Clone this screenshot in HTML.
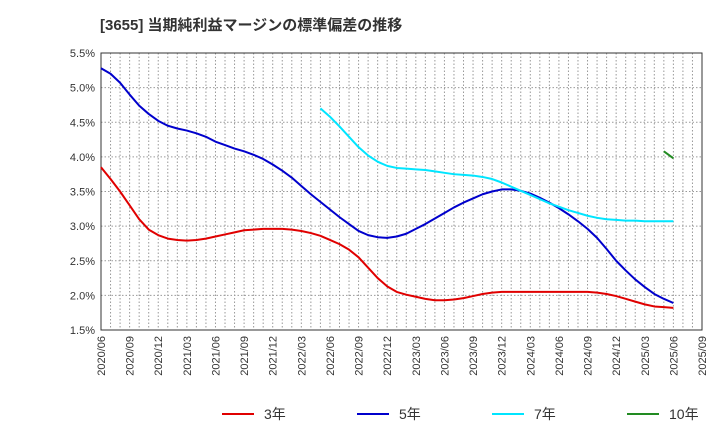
<!DOCTYPE html>
<html><head><meta charset="utf-8"><style>
body{margin:0;background:#fff;width:720px;height:440px;overflow:hidden;font-family:"Liberation Sans","Noto Sans CJK JP",sans-serif;}
</style></head><body>
<svg id="chart" width="720" height="440" xmlns="http://www.w3.org/2000/svg">
<text x="100" y="30" font-size="15" font-weight="bold" fill="#333" font-family="Liberation Sans, Noto Sans CJK JP, sans-serif">[3655]  当期純利益マージンの標準偏差の推移</text>
<g id="grid"></g><g id="axes"></g><g id="series"></g><g id="legend"></g>
</svg>
<script>
const yTicks=[1.5,2.0,2.5,3.0,3.5,4.0,4.5,5.0,5.5];
const xLabels=["2020/06","2020/09","2020/12","2021/03","2021/06","2021/09","2021/12","2022/03","2022/06","2022/09","2022/12","2023/03","2023/06","2023/09","2023/12","2024/03","2024/06","2024/09","2024/12","2025/03","2025/06","2025/09"];
const s3=[3.85,3.68,3.5,3.3,3.1,2.95,2.87,2.82,2.8,2.79,2.8,2.82,2.85,2.88,2.91,2.94,2.95,2.96,2.96,2.96,2.95,2.93,2.9,2.86,2.8,2.74,2.66,2.55,2.4,2.25,2.13,2.05,2.01,1.98,1.95,1.93,1.93,1.94,1.96,1.99,2.02,2.04,2.05,2.05,2.05,2.05,2.05,2.05,2.05,2.05,2.05,2.05,2.04,2.02,1.99,1.95,1.91,1.87,1.84,1.83,1.82];
const s5=[5.28,5.2,5.07,4.9,4.74,4.62,4.52,4.45,4.41,4.38,4.34,4.29,4.22,4.17,4.12,4.08,4.03,3.97,3.89,3.8,3.7,3.58,3.46,3.35,3.24,3.13,3.03,2.93,2.87,2.84,2.83,2.85,2.89,2.96,3.03,3.11,3.19,3.27,3.34,3.4,3.46,3.5,3.53,3.53,3.51,3.47,3.41,3.34,3.26,3.17,3.07,2.96,2.83,2.67,2.5,2.36,2.23,2.12,2.02,1.95,1.89];
const s7start=23;
const s7=[4.7,4.58,4.44,4.29,4.14,4.02,3.93,3.87,3.84,3.83,3.82,3.81,3.79,3.77,3.75,3.74,3.73,3.71,3.68,3.63,3.57,3.51,3.45,3.39,3.33,3.28,3.23,3.19,3.15,3.12,3.1,3.09,3.08,3.08,3.07,3.07,3.07,3.07];
const s10start=59;
const s10=[4.08,3.98];
const L=101,R=702,T=53,B=330,NM=63;
const X=i=>L+i*(R-L)/NM;
const Y=v=>T+(5.5-v)/4*(B-T);
const NS="http://www.w3.org/2000/svg";
function mk(tag,attrs,parent){const e=document.createElementNS(NS,tag);for(const k in attrs)e.setAttribute(k,attrs[k]);parent.appendChild(e);return e;}
const grid=document.getElementById('grid'),axes=document.getElementById('axes'),ser=document.getElementById('series'),leg=document.getElementById('legend');
for(let m=1;m<NM;m++){const l=mk('line',{x1:X(m),x2:X(m),y1:T,y2:B,stroke:'#999','stroke-width':1,'stroke-dasharray':'1.5,2'},grid);

}
yTicks.forEach(v=>{const l=mk('line',{x1:L,x2:R,y1:Y(v),y2:Y(v),stroke:'#999','stroke-width':1,'stroke-dasharray':'1.5,2'},grid);


const t=mk('text',{x:L-6,y:Y(v)+4,'font-size':11,'text-anchor':'end',fill:'#333'},axes);t.textContent=v.toFixed(1)+'%';

});
xLabels.forEach((s,k)=>{const x=X(k*3);const t=mk('text',{x:x+4,y:B+6,'font-size':11,'text-anchor':'end',fill:'#333',transform:`rotate(-90 ${x+4} ${B+6})`},axes);t.textContent=s;

});
const frame=mk('rect',{x:L,y:T,width:R-L,height:B-T,fill:'none',stroke:'#333','stroke-width':1},axes);


function line(arr,start,color,name){const p=mk('polyline',{points:arr.map((v,i)=>X(start+i)+','+Y(v)).join(' '),fill:'none',stroke:color,'stroke-width':2,'stroke-linejoin':'round'},ser);

}
line(s3,0,'#e00000','series-3y');
line(s5,0,'#0000cc','series-5y');
line(s7,s7start,'#00e5ff','series-7y');
line(s10,s10start,'#228b22','series-10y');
[['3年','#e00000',222],['5年','#0000cc',357],['7年','#00e5ff',492],['10年','#228b22',627]].forEach(([n,c,x])=>{
const g=mk('g',{},leg);


mk('line',{x1:x,x2:x+32,y1:414,y2:414,stroke:c,'stroke-width':2},g);
const t=mk('text',{x:x+42,y:419,'font-size':14,fill:'#333'},g);t.textContent=n;});
</script>
</body></html>
